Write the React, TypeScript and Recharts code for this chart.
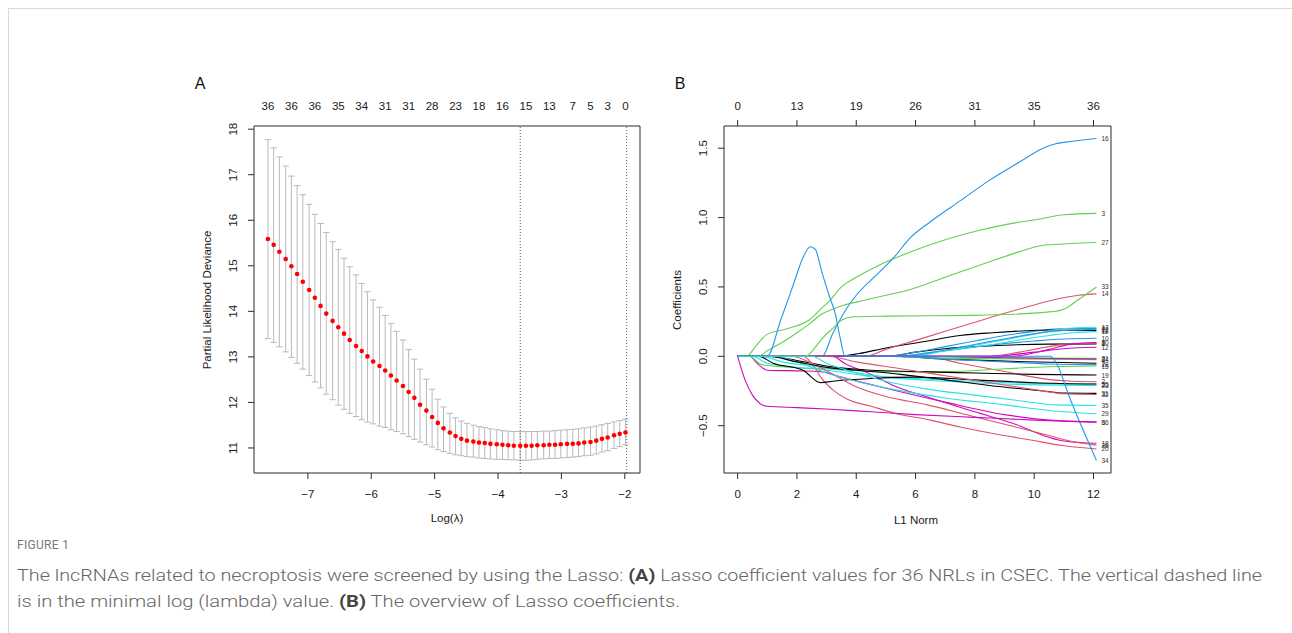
import React from "react";
import {
  ScatterChart,
  Scatter,
  ErrorBar,
  LineChart,
  Line,
  XAxis,
  YAxis,
  ReferenceLine,
} from "recharts";

const FONT = "'Liberation Sans', Arial, Helvetica, sans-serif";
const AXIS = "#2a2a2a";

// ---- panel A: cross-validated partial likelihood deviance ----
const logLambda = [
  -7.63, -7.54, -7.45, -7.35, -7.26, -7.17, -7.08, -6.98, -6.89, -6.8,
  -6.71, -6.61, -6.52, -6.43, -6.34, -6.24, -6.15, -6.06, -5.97, -5.87,
  -5.78, -5.69, -5.6, -5.5, -5.41, -5.32, -5.23, -5.13, -5.04, -4.95,
  -4.86, -4.76, -4.67, -4.58, -4.49, -4.39, -4.3, -4.21, -4.12, -4.02,
  -3.93, -3.84, -3.75, -3.65, -3.56, -3.47, -3.38, -3.28, -3.19, -3.1,
  -3.01, -2.91, -2.82, -2.73, -2.64, -2.54, -2.45, -2.36, -2.27, -2.17,
  -2.08, -1.99,
];
const cvMean = [
  15.59, 15.46, 15.31, 15.15, 14.99, 14.82, 14.65, 14.47, 14.3, 14.12,
  13.95, 13.79, 13.65, 13.51, 13.37, 13.24, 13.13, 13.01, 12.9, 12.8,
  12.7, 12.59, 12.48, 12.36, 12.23, 12.1, 11.95, 11.82, 11.68, 11.55,
  11.43, 11.34, 11.26, 11.2, 11.16, 11.14, 11.12, 11.11, 11.09, 11.08,
  11.07, 11.06, 11.05, 11.05, 11.05, 11.05, 11.06, 11.06, 11.07, 11.07,
  11.08, 11.09, 11.09, 11.1, 11.12, 11.13, 11.16, 11.2, 11.23, 11.28,
  11.31, 11.34,
];
const cvUpper = [
  17.77, 17.59, 17.39, 17.19, 16.97, 16.76, 16.56, 16.35, 16.13, 15.93,
  15.73, 15.53, 15.36, 15.17, 14.98, 14.8, 14.61, 14.43, 14.25, 14.09,
  13.91, 13.73, 13.56, 13.37, 13.16, 12.95, 12.73, 12.51, 12.29, 12.07,
  11.9, 11.76, 11.66, 11.59, 11.54, 11.5, 11.47, 11.45, 11.42, 11.4,
  11.38, 11.37, 11.36, 11.36, 11.36, 11.36, 11.36, 11.37, 11.37, 11.38,
  11.39, 11.4, 11.41, 11.42, 11.44, 11.46, 11.48, 11.51, 11.54, 11.57,
  11.6, 11.63,
];
const cvLower = [
  13.4, 13.32, 13.22, 13.11, 12.99, 12.86, 12.73, 12.59, 12.45, 12.32,
  12.18, 12.06, 11.94, 11.85, 11.76, 11.69, 11.62, 11.57, 11.53, 11.48,
  11.45, 11.4, 11.36, 11.31, 11.25, 11.19, 11.13, 11.07, 11.02, 10.96,
  10.92, 10.88, 10.85, 10.83, 10.81, 10.8, 10.78, 10.77, 10.76, 10.75,
  10.75, 10.74, 10.74, 10.73, 10.73, 10.74, 10.75, 10.76, 10.77, 10.77,
  10.78, 10.79, 10.8, 10.81, 10.83, 10.84, 10.87, 10.91, 10.94, 10.99,
  11.03, 11.07,
];
const nzeroAt = [0, 4, 8, 12, 16, 20, 24, 28, 32, 36, 40, 44, 48, 52, 55, 58, 61];
const nzeroLabels = [36, 36, 36, 35, 34, 31, 31, 28, 23, 18, 16, 15, 13, 7, 5, 3, 0];
const lambdaMin = -3.65;
const lambda1se = -1.97;
const lambdaTicks = [-7, -6, -5, -4, -3, -2];
const devianceTicks = [11, 12, 13, 14, 15, 16, 17, 18];

// ---- panel B: coefficient paths against L1 norm ----
const l1Ticks = [0, 2, 4, 6, 8, 10, 12];
const dfLabels = [0, 13, 19, 26, 31, 35, 36];
const coefTicks = [-0.5, 0, 0.5, 1, 1.5];
const rPalette = ["#000000", "#DF536B", "#61D04F", "#2297E6", "#28E2E5", "#CD0BBC"];

// one path per variable (1..36), points are [L1 norm, coefficient]
const coefPaths: number[][][] = [
  [[0, 0], [5, 0], [6, 0.03], [7, 0.055], [8, 0.07], [9, 0.08], [10.5, 0.088], [12.1, 0.09]],
  [[0, 0], [6.3, 0], [7.5, -0.05], [9, -0.11], [10.6, -0.17], [11.3, -0.18], [12.1, -0.183]],
  [[0, 0], [0.3, 0], [0.6, 0.07], [1, 0.16], [1.5, 0.19], [2, 0.22], [2.4, 0.26], [2.8, 0.34], [3.1, 0.4], [3.5, 0.5], [4, 0.57], [4.7, 0.65], [5.8, 0.75], [7, 0.84], [8.2, 0.91], [9.3, 0.96], [10.2, 0.99], [11, 1.02], [12.1, 1.03]],
  [[0, 0], [5, 0], [6, 0.03], [7, 0.07], [8, 0.11], [9, 0.15], [10, 0.18], [11, 0.2], [12.1, 0.2]],
  [[0, 0], [0.5, 0], [1, -0.05], [2, -0.08], [3, -0.1], [4, -0.13], [6, -0.16], [8, -0.18], [10, -0.195], [12.1, -0.2]],
  [[0, 0], [0.4, 0], [0.7, -0.06], [1, -0.1], [2, -0.105], [2.8, -0.11], [3.5, -0.15], [5, -0.23], [7, -0.33], [9, -0.42], [10.5, -0.46], [12.1, -0.474]],
  [[0, 0], [5.2, 0], [7, -0.02], [9, -0.035], [12.1, -0.05]],
  [[0, 0], [8.5, 0], [9.5, 0.03], [10.5, 0.07], [11.2, 0.09], [12.1, 0.095]],
  [[0, 0], [4.5, 0], [7, -0.015], [12.1, -0.025]],
  [[0, 0], [5.5, 0], [7, 0.04], [8.5, 0.08], [10, 0.11], [11, 0.125], [12.1, 0.13]],
  [[0, 0], [5.3, 0], [7, 0.04], [9, 0.1], [10.5, 0.15], [11.3, 0.17], [12.1, 0.178]],
  [[0, 0], [8.5, 0], [10, 0.03], [11, 0.055], [12.1, 0.065]],
  [[0, 0], [3.4, 0], [4.1, 0.02], [5, 0.06], [6.4, 0.11], [7.5, 0.15], [8.6, 0.17], [10.6, 0.19], [12.1, 0.186]],
  [[0, 0], [4.3, 0], [5, 0.05], [6, 0.115], [7, 0.18], [8, 0.245], [9, 0.31], [10, 0.37], [10.7, 0.41], [11.5, 0.44], [12.1, 0.45]],
  [[0, 0], [0.4, 0], [0.8, -0.06], [1.5, -0.075], [3, -0.09], [5, -0.11], [7, -0.11], [9, -0.09], [10.5, -0.075], [12.1, -0.07]],
  [[0, 0], [2.85, 0], [3.2, 0.16], [3.6, 0.32], [4, 0.44], [4.7, 0.59], [5.3, 0.72], [5.8, 0.85], [6.5, 0.97], [7.5, 1.12], [8.5, 1.27], [9.5, 1.4], [10.3, 1.5], [10.7, 1.53], [11.3, 1.55], [12.1, 1.57]],
  [[0, 0], [5.8, 0], [7, 0.04], [8.5, 0.1], [10, 0.16], [11, 0.2], [12.1, 0.21]],
  [[0, 0], [3.2, 0], [3.6, -0.05], [4.5, -0.13], [5.25, -0.21], [6.5, -0.3], [8, -0.4], [9.5, -0.5], [10.3, -0.57], [11, -0.61], [12.1, -0.627]],
  [[0, 0], [1, 0], [2, -0.03], [3, -0.07], [4.5, -0.1], [6, -0.11], [8, -0.12], [10, -0.13], [12.1, -0.135]],
  [[0, 0], [2.2, 0], [2.6, -0.08], [2.8, -0.15], [3.2, -0.24], [3.7, -0.31], [4.5, -0.36], [5.3, -0.41], [6.5, -0.46], [7.5, -0.51], [8.7, -0.56], [9.8, -0.6], [11, -0.645], [12.1, -0.668]],
  [[0, 0], [5.5, 0], [8, -0.01], [12.1, -0.015]],
  [[0, 0], [5.2, 0], [6.4, 0.025], [8.6, 0.11], [10.6, 0.18], [12.1, 0.195]],
  [[0, 0], [0.8, 0], [1.5, -0.04], [2.5, -0.07], [3.5, -0.1], [5, -0.15], [7, -0.18], [9, -0.2], [12.1, -0.21]],
  [[0, 0], [6.5, 0], [9, -0.01], [12.1, -0.02]],
  [[0, 0], [0.7, 0], [1.2, -0.05], [2.2, -0.1], [2.8, -0.19], [3.2, -0.18], [4.5, -0.16], [6, -0.15], [8, -0.17], [10, -0.19], [12.1, -0.2]],
  [[0, 0], [1.8, 0], [2.5, -0.05], [3.3, -0.14], [4, -0.22], [5, -0.29], [6.4, -0.35], [7.7, -0.42], [9, -0.49], [10.3, -0.56], [11.2, -0.61], [12.1, -0.64]],
  [[0, 0], [0.7, 0], [1, 0.04], [1.5, 0.1], [2, 0.17], [2.4, 0.23], [2.8, 0.3], [3.2, 0.34], [3.6, 0.37], [4.2, 0.4], [5, 0.44], [5.8, 0.48], [7, 0.57], [8.2, 0.66], [9.3, 0.74], [10.3, 0.8], [11, 0.81], [12.1, 0.82]],
  [[0, 0], [5.3, 0], [7, -0.02], [9, -0.04], [10.5, -0.055], [12.1, -0.06]],
  [[0, 0], [1.2, 0], [2, -0.04], [3, -0.12], [4, -0.18], [5.3, -0.24], [7, -0.3], [9, -0.35], [10.5, -0.39], [12.1, -0.414]],
  [[0, 0], [9.2, 0], [10.5, 0.05], [11.3, 0.09], [12.1, 0.1]],
  [[0, 0], [1, 0], [2, -0.04], [3, -0.08], [4, -0.1], [5.5, -0.13], [7, -0.17], [8.5, -0.21], [10.3, -0.25], [11, -0.265], [12.1, -0.267]],
  [[0, 0], [3, 0], [4, -0.04], [5.5, -0.09], [7, -0.14], [8.5, -0.19], [10, -0.24], [11, -0.27], [12.1, -0.275]],
  [[0, 0], [2.3, 0], [2.6, 0.06], [2.9, 0.14], [3.2, 0.2], [3.5, 0.26], [3.9, 0.285], [5, 0.29], [8, 0.295], [10.5, 0.32], [11, 0.34], [11.5, 0.41], [12.1, 0.5]],
  [[0, 0], [1, 0], [1.45, 0.26], [1.9, 0.53], [2.2, 0.71], [2.45, 0.79], [2.62, 0.77], [2.85, 0.6], [3.1, 0.43], [3.3, 0.3], [3.45, 0.14], [3.62, 0], [10.55, 0], [10.75, -0.05], [11.2, -0.3], [12.1, -0.75]],
  [[0, 0], [2.5, 0], [3, -0.05], [4, -0.12], [5, -0.18], [6.5, -0.24], [8, -0.28], [9.5, -0.32], [10.8, -0.35], [12.1, -0.354]],
  [[0, 0], [0.25, -0.17], [0.5, -0.28], [0.75, -0.34], [1, -0.36], [2, -0.37], [3, -0.38], [4.5, -0.4], [6, -0.42], [8, -0.44], [10, -0.46], [12.1, -0.474]],
];

// chart frame (local coords inside each 500x460 chart)
const CW = 500;
const CH = 460;
const PL = 80; // plot left
const PT = 60; // plot top
const PB = 407; // plot bottom

const minus = (s: string) => s.replace("-", "\u2212");
const txt = { fontFamily: FONT, fontSize: 11.5, fill: "#1a1a1a" };

const bottomTick = (fmt: (v: number) => string) => (p: any) => (
  <text key={p.index} x={p.x} y={PB + 21} textAnchor="middle" dominantBaseline="central" {...txt}>
    {fmt(p.payload.value)}
  </text>
);
const leftTick = (fmt: (v: number) => string) => (p: any) => (
  <text
    key={p.index}
    x={PL - 21}
    y={p.y}
    transform={`rotate(-90 ${PL - 21} ${p.y})`}
    textAnchor="middle"
    dominantBaseline="central"
    {...txt}
  >
    {fmt(p.payload.value)}
  </text>
);
const topTick = (labels: number[]) => (p: any) => (
  <text key={p.index} x={p.x} y={PT - 20} textAnchor="middle" dominantBaseline="central" {...txt}>
    {labels[p.index]}
  </text>
);

function PanelA() {
  const rows = logLambda.map((x, i) => ({
    x,
    y: cvMean[i],
    err: [cvMean[i] - cvLower[i], cvUpper[i] - cvMean[i]],
  }));
  const domX: [number, number] = [-7.85, -1.76];
  const domY: [number, number] = [10.45, 18.07];
  return (
    <ScatterChart width={CW} height={CH} margin={{ top: 0, right: 0, bottom: 0, left: 0 }}>
      <XAxis
        type="number" dataKey="x" domain={domX} ticks={lambdaTicks} interval={0}
        allowDataOverflow height={53} stroke={AXIS} tickSize={6}
        tick={bottomTick((v) => minus(String(v)))}
      />
      <XAxis
        xAxisId="top" orientation="top" type="number" dataKey="x" domain={domX}
        ticks={nzeroAt.map((i) => logLambda[i])} interval={0} allowDataOverflow
        height={60} stroke={AXIS} tickLine={false} tick={topTick(nzeroLabels)}
      />
      <YAxis
        type="number" dataKey="y" domain={domY} ticks={devianceTicks} interval={0}
        allowDataOverflow width={80} stroke={AXIS} tickSize={6}
        tick={leftTick((v) => String(v))}
      />
      <YAxis yAxisId="right" orientation="right" type="number" dataKey="y" domain={domY} width={34} stroke={AXIS} tick={false} tickLine={false} />
      {/* carrier series so the top axis and right axis get a scale */}
      <Scatter data={rows} xAxisId="top" yAxisId="right" isAnimationActive={false} shape={() => <g />} />
      <Scatter data={rows} isAnimationActive={false} shape={() => <g />}>
        <ErrorBar dataKey="err" direction="y" width={3.2} stroke="#b9b9b9" strokeWidth={1} />
      </Scatter>
      <Scatter
        data={rows}
        isAnimationActive={false}
        shape={(p: any) => <circle cx={p.cx} cy={p.cy} r={2.3} fill="#ff0000" />}
      />
      <ReferenceLine x={lambdaMin} stroke="#555" strokeDasharray="1 2" />
      <ReferenceLine x={lambda1se} stroke="#555" strokeDasharray="1 2" />
    </ScatterChart>
  );
}

function PanelB() {
  const domX: [number, number] = [-0.46, 12.59];
  const domY: [number, number] = [-0.841, 1.66];
  const carrier = coefPaths[0].map(([x, y]) => ({ x, y }));
  return (
    <LineChart width={CW} height={CH} margin={{ top: 0, right: 0, bottom: 0, left: 0 }}>
      <XAxis
        type="number" dataKey="x" domain={domX} ticks={l1Ticks} interval={0}
        allowDataOverflow height={53} stroke={AXIS} tickSize={6}
        tick={bottomTick((v) => String(v))}
      />
      <XAxis
        xAxisId="top" orientation="top" type="number" dataKey="x" domain={domX} ticks={l1Ticks}
        interval={0} allowDataOverflow height={60} stroke={AXIS} tickSize={6}
        tick={(p: any) => (
          <text key={p.index} x={p.x} y={PT - 20} textAnchor="middle" dominantBaseline="central" {...txt}>
            {dfLabels[p.index]}
          </text>
        )}
      />
      <YAxis
        type="number" domain={domY} ticks={coefTicks} interval={0} allowDataOverflow
        width={80} stroke={AXIS} tickSize={6}
        tick={leftTick((v) => minus(v.toFixed(1)))}
      />
      <YAxis yAxisId="right" orientation="right" type="number" domain={domY} width={33} stroke={AXIS} tick={false} tickLine={false} />
      {/* invisible carrier so the top axis gets its ticks */}
      <Line
        data={carrier} xAxisId="top" yAxisId="right" dataKey="y" stroke="none"
        dot={false} activeDot={false} isAnimationActive={false}
      />
      {coefPaths.map((pts, i) => {
        const data = pts.map(([x, y]) => ({ x, y }));
        const last = data.length - 1;
        return (
          <Line
            key={i}
            data={data}
            dataKey="y"
            type="monotone"
            stroke={rPalette[i % 6]}
            strokeWidth={1.1}
            isAnimationActive={false}
            activeDot={false}
            dot={(p: any) =>
              p.index === last ? (
                <text
                  key={`lab${i}`}
                  x={p.cx + 5}
                  y={p.cy}
                  dominantBaseline="central"
                  fontFamily={FONT}
                  fontSize={6.5}
                  fill="#333"
                >
                  {i + 1}
                </text>
              ) : (
                <g key={`pt${i}-${p.index}`} />
              )
            }
          />
        );
      })}
    </LineChart>
  );
}

export default function App() {
  const title = { fontFamily: FONT, fontSize: 11.5, fill: "#1a1a1a" };
  const capFont = "Roboto, 'Open Sans', sans-serif";
  return (
    <div style={{ position: "absolute", left: 0, top: 0, width: 1292, height: 633, background: "#fff", overflow: "hidden" }}>
      <div style={{ position: "absolute", left: 8, top: 8, width: 1300, height: 640, borderTop: "1px solid #d9d9d9", borderLeft: "1px solid #d9d9d9" }} />
      <svg width={1292} height={633} style={{ position: "absolute", left: 0, top: 0 }}>
        <text x={200} y={83} textAnchor="middle" dominantBaseline="central" fontFamily={FONT} fontSize={16} fill="#111">A</text>
        <text x={680} y={83} textAnchor="middle" dominantBaseline="central" fontFamily={FONT} fontSize={16} fill="#111">B</text>
        <text x={447} y={518} textAnchor="middle" dominantBaseline="central" {...title}>Log(λ)</text>
        <text x={916} y={520} textAnchor="middle" dominantBaseline="central" {...title}>L1 Norm</text>
        <text x={207} y={300} transform="rotate(-90 207 300)" textAnchor="middle" dominantBaseline="central" {...title}>Partial Likelihood Deviance</text>
        <text x={677} y={300} transform="rotate(-90 677 300)" textAnchor="middle" dominantBaseline="central" {...title}>Coefficients</text>
        <text x={17} y={549} fontFamily={capFont} fontSize={12} fill="#777" letterSpacing={0.3}>FIGURE 1</text>
        <text x={17} y={581} fontFamily={capFont} fontWeight={300} fontSize={17} fill="#666" textLength={1245} lengthAdjust="spacingAndGlyphs">
          The lncRNAs related to necroptosis were screened by using the Lasso: <tspan fontWeight="bold" fill="#444">(A)</tspan> Lasso coefficient values for 36 NRLs in CSEC. The vertical dashed line
        </text>
        <text x={17} y={607} fontFamily={capFont} fontWeight={300} fontSize={17} fill="#666" textLength={663} lengthAdjust="spacingAndGlyphs">
          is in the minimal log (lambda) value. <tspan fontWeight="bold" fill="#444">(B)</tspan> The overview of Lasso coefficients.
        </text>
      </svg>
      <div style={{ position: "absolute", left: 174, top: 66 }}>
        <PanelA />
      </div>
      <div style={{ position: "absolute", left: 644, top: 66 }}>
        <PanelB />
      </div>
    </div>
  );
}
